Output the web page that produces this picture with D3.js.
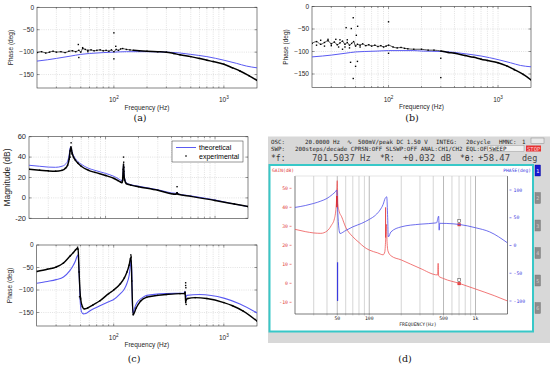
<!DOCTYPE html>
<html><head><meta charset="utf-8">
<script src="https://cdn.jsdelivr.net/npm/d3@7"></script>
<style>body{margin:0;background:#fff}svg{display:block}</style>
</head><body>
<script>
// ---------- DATA ----------
const freqDomain = [20, 2000];
const gridFreqs = [30,40,50,60,70,80,90,100,200,300,400,500,600,700,800,900,1000];
const decadeTicks = [100, 1000];
const decadeLabels = ["2", "3"];
const phaseTicks = [0, -50, -100, -150];
const phaseTickLabels = ["0", "\u221250", "\u2212100", "\u2212150"];
const magTicks = [60, 40, 20, 0, -20];
const magTickLabels = ["60", "40", "20", "0", "-20"];

// (a)
const theoF = [20,25,30,40,50,60,80,100,130,170,200,300,400,500,700,1000,1300,1600,2000];
const aTheoV = [-120,-117,-114,-109,-105,-103,-101,-100,-99,-99,-99,-100,-102,-105,-110,-118,-125,-131,-135];
const aExpF = [20,22,24,26,28,30,33,36,39,42,45,48,50,52,55,58,62,66,70,75,80,85,90,95,100,105,110,115,120,130,140,150,170,200,250,300,350,400,500,600,700,800,1000,1200,1400,1700,2000];
const aExpV = [-101,-99,-102,-100,-98,-100,-99,-101,-98,-97,-99,-96,-100,-92,-94,-96,-95,-97,-96,-95,-97,-96,-98,-95,-99,-94,-96,-93,-92,-94,-95,-96,-97,-98,-99,-100,-103,-106,-110,-114,-118,-121,-127,-135,-142,-153,-163];
const aOutF = [47.5,48,100,100,104,52,58];
const aOutV = [-83,-112,-57,-115,-87,-90,-99];

// (b)
const bTheoV = [-112,-110,-108,-104,-101,-100,-99,-98,-98,-98,-99,-100,-102,-105,-110,-118,-125,-131,-134];
const bExpF = [20,22,24,26,28,30,32,34,36,38,40,42,44,46,48,50,52,55,58,62,66,70,75,80,85,90,95,100,110,120,130,140,150,170,200,230,260,300,350,400,500,600,700,800,1000,1200,1400,1700,2000];
const bExpV = [-82,-78,-84,-80,-76,-83,-79,-85,-81,-77,-84,-80,-86,-82,-78,-88,-84,-86,-83,-87,-85,-88,-86,-89,-87,-90,-88,-86,-90,-92,-91,-93,-94,-95,-95,-97,-97,-99,-102,-104,-109,-113,-117,-120,-125,-132,-140,-151,-163];
const bOutF = [47.6,45.7,52.2,50.8,41,47.6,50,52,45,100,100,300,300,38,44,55,33,35,24,28,30,36,40,42,22,26];
const bOutV = [-25,-49,-44,-64,-47,-160,-133,-122,-124,-34,-104,-158,-115,-95,-92,-90,-73,-90,-75,-73,-87,-74,-90,-74,-86,-88];

// (c) magnitude
const cMagF = [20,25,30,35,40,43,45,46.5,47.5,48.3,49.5,51,53,56,60,70,80,100,120,130,137,141,143,145,146,147,149,155,170,200,300,440,450,460,600,1000,1500,2000];
const cMagTheo = [32,31,30.2,30,31,33,36,42,49,50,45,41.5,38.5,35.5,33,29,27,24,21,19,17.5,17,19,28,33,27,20,15,13,11.5,8,4.5,5.5,4,2,-2,-6,-8.5];
const cMagExp = [28,27.2,26.5,26.2,27,29,32,38,46,50,44,40,37,34,31,27,25,22,19,17,15.5,15,17,28,33,26,18,14,12.5,11,7.5,3.6,5,3.5,1.5,-2.5,-6,-8.5];
const cMagOutF = [48.5,47.5,49.5,146,146.5,147,450];
const cMagOutV = [54,40,43,40,35,30,11];

// (c) phase
const cPhTheoF = [20,25,30,35,40,43,45,46.5,47.5,48.5,49.5,51,53,56,62,75,90,100,115,125,132,138,142,144,146,148,150,155,162,180,200,300,435,445,450,460,600,1000,1400,2000];
const cPhTheoV = [-85,-81,-77,-71,-57,-45,-35,-25,-22,-60,-120,-148,-153,-152,-145,-135,-126,-121,-108,-98,-85,-68,-45,-33,-60,-136,-152,-140,-129,-118,-112,-108,-107,-103,-120,-112,-110,-118,-131,-151];
const cPhExpF = [20,25,30,35,40,43,45,46.5,47.5,48.5,50,52,54,58,65,75,90,100,115,125,132,138,142,144,146,150,160,175,200,250,300,400,440,445,450,455,470,550,700,1000,1200,1500,2000];
const cPhExpV = [-59,-54,-49,-40,-25,-17,-11,-8,-9,-60,-118,-137,-142,-140,-133,-124,-108,-100,-86,-73,-60,-45,-30,-28,-80,-155,-140,-125,-116,-112,-110,-108,-108,-105,-128,-122,-119,-117,-119,-128,-135,-147,-169];
const cPhOutF = [47,49,50,143,144,450,450,452,455];
const cPhOutV = [-5,-115,-120,-22,-25,-84,-90,-95,-132];

// (d) analyzer
const dGainF = [20,25,30,35,40,44,47,49,50,50.6,52,55,60,70,80,90,100,120,135,140,143,145,147,150,160,200,300,440,445,450,500,700,1000,1500,2000];
const dGainV = [28.4,27.2,26.5,26.3,27.5,30.5,34,42,54,42,38,35,29.5,24.5,21.5,19,17.5,16,15,16.5,24,31,22,17,14.5,12.3,7.9,4.4,10.5,3.8,2.5,0,-3,-6.5,-9.3];
const dPhaseF = [20,25,30,35,40,45,48,49.5,50.5,53,60,70,85,100,115,126,135,141,146,149,151,160,200,300,430,450,455,460,537,700,1000,1360,2000];
const dPhaseV = [68.6,72,75.8,80,84.8,92,96.8,100,60,21.7,27,33.6,40,47,55,63.7,74,84.8,87.7,50,15.5,24.5,33.6,38.4,40.8,52.9,27.6,40,39.7,38,32,24.5,4.7];
const dGainTicks = [50,40,30,20,10,0,-10];
const dPhaseTicks = [100,50,0,-50,-100];
const dFreqTicks = [50,100,500,1000];
const dFreqLabels = ["50","100","500","1k"];
const dGridFreqs = [30,40,50,60,70,80,90,100,200,300,400,500,600,700,800,900,1000];
const markerF = 701.5;
const markerGain = 0;
const markerPhase = 38;

// ---------- DRAW ----------
const W = 550, H = 370;
const svg = d3.select("body").append("svg").attr("width", W).attr("height", H)
  .style("font-family", "'Liberation Sans', Arial, sans-serif");
svg.append("rect").attr("width", W).attr("height", H).attr("fill", "#fff");

const BLUE = "#5a5af2";
const zip = (a, b) => a.map((v, i) => [v, b[i]]);
let clipId = 0;

function matlabAxes(o) {
  const g = svg.append("g");
  const x = d3.scaleLog().domain(freqDomain).range([o.x0, o.x1]);
  const y = d3.scaleLinear().domain(o.yDomain).range([o.y1, o.y0]);
  g.selectAll(".vg").data(gridFreqs).join("line")
    .attr("x1", d => x(d)).attr("x2", d => x(d)).attr("y1", o.y0).attr("y2", o.y1)
    .attr("stroke", "#c4c4c4").attr("stroke-width", 0.5).attr("stroke-dasharray", "1,1.2");
  g.selectAll(".hg").data(o.yTicks.filter(t => t > o.yDomain[0] && t < o.yDomain[1])).join("line")
    .attr("x1", o.x0).attr("x2", o.x1).attr("y1", d => y(d)).attr("y2", d => y(d))
    .attr("stroke", "#c4c4c4").attr("stroke-width", 0.5).attr("stroke-dasharray", "1,1.2");
  g.selectAll(".xt").data(gridFreqs).join("path")
    .attr("d", d => { const L = decadeTicks.includes(d) ? 2.5 : 1.5; return `M${x(d)},${o.y1}v${-L}M${x(d)},${o.y0}v${L}`; })
    .attr("stroke", "#333").attr("stroke-width", 0.5);
  g.selectAll(".yt").data(o.yTicks).join("path")
    .attr("d", d => `M${o.x0},${y(d)}h2.5M${o.x1},${y(d)}h-2.5`)
    .attr("stroke", "#333").attr("stroke-width", 0.5);
  g.append("rect").attr("x", o.x0).attr("y", o.y0).attr("width", o.x1 - o.x0).attr("height", o.y1 - o.y0)
    .attr("fill", "none").attr("stroke", "#333").attr("stroke-width", 0.6);
  g.selectAll(".yl").data(o.yTicks).join("text")
    .attr("x", o.x0 - 3).attr("y", d => y(d) + 2.2).attr("text-anchor", "end")
    .attr("font-size", o.tickSize || 6.5).attr("fill", "#262626").text((d, i) => o.yTickLabels[i]);
  if (o.showX) {
    decadeTicks.forEach((d, i) => {
      const t = g.append("text").attr("x", x(d)).attr("y", o.y1 + o.xLabDy).attr("text-anchor", "middle")
        .attr("font-size", 6.5).attr("fill", "#262626");
      t.append("tspan").text("10");
      t.append("tspan").attr("dy", -2.8).attr("font-size", 4.6).text(decadeLabels[i]);
    });
    g.append("text").attr("x", (o.x0 + o.x1) / 2).attr("y", o.y1 + o.xTitleDy).attr("text-anchor", "middle")
      .attr("font-size", 6.5).attr("fill", "#262626").text("Frequency (Hz)");
  }
  g.append("text").attr("transform", `translate(${o.ylabX},${(o.y0 + o.y1) / 2}) rotate(-90)`)
    .attr("text-anchor", "middle").attr("font-size", o.ylabSize || 6.5).attr("fill", "#262626").text(o.ylabel);
  const id = "clip" + (clipId++);
  svg.append("clipPath").attr("id", id).append("rect")
    .attr("x", o.x0).attr("y", o.y0).attr("width", o.x1 - o.x0).attr("height", o.y1 - o.y0);
  const plot = svg.append("g").attr("clip-path", `url(#${id})`);
  return { x, y, plot };
}

function drawTheo(ax, F, V, color, w) {
  ax.plot.append("path").datum(zip(F, V))
    .attr("d", d3.line().x(d => ax.x(d[0])).y(d => ax.y(d[1])).curve(d3.curveMonotoneX))
    .attr("fill", "none").attr("stroke", color).attr("stroke-width", w || 1);
}
function drawExp(ax, F, V, outF, outV, lw, thickFrom) {
  const pts = zip(F, V);
  const line = d3.line().x(d => ax.x(d[0])).y(d => ax.y(d[1])).curve(d3.curveMonotoneX);
  if (thickFrom) {
    ax.plot.append("path").datum(pts.filter(d => d[0] <= thickFrom))
      .attr("d", line).attr("fill", "none").attr("stroke", "#000").attr("stroke-width", 0.7);
    ax.plot.append("path").datum(pts.filter(d => d[0] >= thickFrom))
      .attr("d", line).attr("fill", "none").attr("stroke", "#000").attr("stroke-width", lw);
  } else {
    ax.plot.append("path").datum(pts).attr("d", line)
      .attr("fill", "none").attr("stroke", "#000").attr("stroke-width", lw || 1.4);
  }
  const all = pts.concat(zip(outF, outV));
  ax.plot.selectAll(null).data(all).join("rect")
    .attr("x", d => ax.x(d[0]) - 0.7).attr("y", d => ax.y(d[1]) - 0.7)
    .attr("width", 1.4).attr("height", 1.4).attr("fill", "#000");
}

// (a)
const axA = matlabAxes({ x0: 37, x1: 257, y0: 7.3, y1: 88, yDomain: [-180, 0], yTicks: phaseTicks,
  yTickLabels: phaseTickLabels, showX: true, xLabDy: 14, xTitleDy: 21.5, ylabel: "Phase (deg)", ylabX: 13 });
drawTheo(axA, theoF, aTheoV, BLUE, 1);
drawExp(axA, aExpF, aExpV, aOutF, aOutV, 1.5, 150);

// (b)
const axB = matlabAxes({ x0: 312, x1: 531, y0: 6.5, y1: 87.5, yDomain: [-180, 0], yTicks: phaseTicks,
  yTickLabels: phaseTickLabels, showX: true, xLabDy: 14, xTitleDy: 21.5, ylabel: "Phase (deg)", ylabX: 288 });
drawTheo(axB, theoF, bTheoV, BLUE, 1);
drawExp(axB, bExpF, bExpV, bOutF, bOutV, 1.5, 300);

// (c) magnitude
const axCM = matlabAxes({ x0: 29, x1: 248, y0: 136.7, y1: 218.3, yDomain: [-20, 60], yTicks: magTicks,
  yTickLabels: magTickLabels, showX: false, ylabel: "Magnitude (dB)", ylabX: 10, ylabSize: 8.5, tickSize: 7.5 });
drawTheo(axCM, cMagF, cMagTheo, BLUE, 1);
drawExp(axCM, cMagF, cMagExp, cMagOutF, cMagOutV, 1.5);
const lg = svg.append("g");
lg.append("rect").attr("x", 172).attr("y", 141).attr("width", 71).attr("height", 21)
  .attr("fill", "#fff").attr("stroke", "#333").attr("stroke-width", 0.5);
lg.append("line").attr("x1", 176).attr("x2", 196).attr("y1", 147.5).attr("y2", 147.5).attr("stroke", BLUE).attr("stroke-width", 1);
lg.append("rect").attr("x", 185.3).attr("y", 155.3).attr("width", 1.4).attr("height", 1.4).attr("fill", "#000");
lg.append("text").attr("x", 199).attr("y", 150).attr("font-size", 7).attr("fill", "#000").text("theoretical");
lg.append("text").attr("x", 199).attr("y", 158.5).attr("font-size", 7).attr("fill", "#000").text("experimental");

// (c) phase
const axCP = matlabAxes({ x0: 36.7, x1: 257, y0: 245, y1: 326, yDomain: [-180, 0], yTicks: phaseTicks,
  yTickLabels: phaseTickLabels, showX: true, xLabDy: 14, xTitleDy: 20.5, ylabel: "Phase (deg)", ylabX: 12 });
drawTheo(axCP, cPhTheoF, cPhTheoV, BLUE, 1.1);
drawExp(axCP, cPhExpF, cPhExpV, cPhOutF, cPhOutV, 1.4);

const subLab = [["(a)", 140, 121], ["(b)", 412, 121], ["(c)", 134, 362], ["(d)", 405, 362]];
svg.selectAll(".sl").data(subLab).join("text")
  .attr("x", d => d[1]).attr("y", d => d[2]).attr("text-anchor", "middle")
  .attr("font-family", "'DejaVu Serif', 'Liberation Serif', serif").attr("font-size", 9.5).attr("fill", "#111")
  .text(d => d[0]);

// ---------- (d) analyzer screenshot ----------
const dg = svg.append("g").attr("font-family", "'DejaVu Sans Mono', 'Liberation Mono', monospace");
dg.append("rect").attr("x", 268).attr("y", 136.5).attr("width", 282).attr("height", 206.5).attr("fill", "#d8d8d8");
const row = (txt, x, y, size, fill, anchor) => dg.append("text").attr("x", x).attr("y", y)
  .attr("font-size", size).attr("fill", fill || "#222").attr("text-anchor", anchor || "start").text(txt);
row("OSC:", 271, 143.5, 5.8);
row("20.0000 Hz", 305, 143.5, 5.8);
row("\u223F", 347, 143.5, 6);
row("500mV/peak DC  1.50 V", 358, 143.5, 5.8);
row("INTEG:", 436, 143.5, 5.8);
row("20cycle", 466, 143.5, 5.8);
row("HMNC:", 499, 143.5, 5.8);
row("1", 522, 143.5, 5.8);
dg.append("rect").attr("x", 531).attr("y", 138).attr("width", 13).attr("height", 5.5).attr("fill", "#e8e8e8").attr("stroke", "#888").attr("stroke-width", 0.5);
row("SWP:", 271, 150.5, 5.8);
row("200steps/decade CPRSN:OFF SLSWP:OFF ANAL:CH1/CH2 EQL:OFF", 295, 150.5, 5.8);
dg.append("rect").attr("x", 488).attr("y", 145.5).attr("width", 36).attr("height", 6).attr("fill", "#efefef").attr("stroke", "#888").attr("stroke-width", 0.4);
row("SWEEP", 489, 150.5, 5.8);
dg.append("rect").attr("x", 526).attr("y", 145.5).attr("width", 15).attr("height", 6).attr("fill", "#e53030");
row("STOP", 527, 150.5, 5.6, "#ffd0d0");
row("*f:", 271, 161, 8, "#333");
row("701.5037 Hz", 312, 161, 8.9, "#444");
row("*R:", 380, 161, 8, "#333");
row("+0.032 dB", 403, 161, 8.9, "#444");
row("*\u03B8:", 460, 161, 8, "#333");
row("+58.47", 478, 161, 8.9, "#444");
row("deg", 522, 161, 8.5, "#444");

dg.append("rect").attr("x", 269.5).attr("y", 165).attr("width", 263.5).attr("height", 166.5)
  .attr("fill", "#fff").attr("stroke", "#38c8c8").attr("stroke-width", 2);
const btnY = [165, 192.5, 220, 247.5, 275, 302.5];
btnY.forEach((by, i) => {
  dg.append("rect").attr("x", 535).attr("y", by).attr("width", 5.5).attr("height", 11)
    .attr("fill", i === 0 ? "#1818d0" : "#8c8c8c").attr("stroke", i === 0 ? "#0808a0" : "#707070").attr("stroke-width", 0.4);
  row(String(i + 1), 537.7, by + 7.5, 5, i === 0 ? "#fff" : "#cfcfcf", "middle");
});

const dx = d3.scaleLog().domain(freqDomain).range([295, 507.5]);
const gy = d3.scaleLinear().domain([-10, 50]).range([302.3, 188.3]);
const py = d3.scaleLinear().domain([-100, 100]).range([301, 190]);
const dTop = 176, dBot = 314;
dg.selectAll(".dgl").data(dGridFreqs).join("line")
  .attr("x1", d => dx(d)).attr("x2", d => dx(d)).attr("y1", dTop).attr("y2", dBot + 1.5)
  .attr("stroke", d => dFreqTicks.includes(d) ? "#8a8a8a" : "#b8b8b8").attr("stroke-width", 0.6);
dg.append("path").attr("d", `M295,${dTop}V${dBot}H507.5V${dTop}`).attr("fill", "none").attr("stroke", "#444").attr("stroke-width", 0.7);
dg.append("line").attr("x1", 295).attr("x2", 507.5).attr("y1", dTop).attr("y2", dTop).attr("stroke", "#c8c8c8").attr("stroke-width", 0.5);
dg.selectAll(".gt").data(dGainTicks).join("text")
  .attr("x", 288).attr("y", d => gy(d) + 1.6).attr("text-anchor", "end").attr("font-size", 4.8).attr("fill", "#e03a3a").text(d => d);
dg.selectAll(".gtm").data(dGainTicks).join("line")
  .attr("x1", 289.5).attr("x2", 291.5).attr("y1", d => gy(d)).attr("y2", d => gy(d)).attr("stroke", "#e03a3a").attr("stroke-width", 0.6);
dg.selectAll(".pt").data(dPhaseTicks).join("text")
  .attr("x", 513.5).attr("y", d => py(d) + 1.6).attr("font-size", 4.8).attr("fill", "#3a3ae0").text(d => d);
dg.selectAll(".ptm").data(dPhaseTicks).join("line")
  .attr("x1", 509.5).attr("x2", 511.5).attr("y1", d => py(d)).attr("y2", d => py(d)).attr("stroke", "#3a3ae0").attr("stroke-width", 0.6);
dg.selectAll(".ft").data(dFreqTicks).join("text")
  .attr("x", d => dx(d)).attr("y", 320).attr("text-anchor", "middle").attr("font-size", 4.8).attr("fill", "#222")
  .text((d, i) => dFreqLabels[i]);
row("FREQUENCY(Hz)", 418, 326, 4.8, "#222", "middle");
row("GAIN(dB)", 272, 171.5, 4.6, "#e03a3a");
row("PHASE(deg)", 531, 171.5, 4.6, "#3a3ae0", "end");

svg.append("clipPath").attr("id", "dclip").append("rect").attr("x", 295).attr("y", dTop - 2).attr("width", 212.5).attr("height", dBot - dTop + 2);
const dp = svg.append("g").attr("clip-path", "url(#dclip)");
dp.append("path").datum(zip(dGainF, dGainV))
  .attr("d", d3.line().x(d => dx(d[0])).y(d => gy(d[1])).curve(d3.curveMonotoneX))
  .attr("fill", "none").attr("stroke", "#ee5555").attr("stroke-width", 0.8);
dp.append("path").datum(zip(dPhaseF, dPhaseV))
  .attr("d", d3.line().x(d => dx(d[0])).y(d => py(d[1])).curve(d3.curveMonotoneX))
  .attr("fill", "none").attr("stroke", "#4a4ae8").attr("stroke-width", 0.8);
dp.append("line").attr("x1", dx(50.3)).attr("x2", dx(50.3)).attr("y1", py(-30)).attr("y2", py(-100))
  .attr("stroke", "#3a3ae0").attr("stroke-width", 1.2);
dp.append("line").attr("x1", dx(49.6)).attr("x2", dx(49.6)).attr("y1", gy(40)).attr("y2", gy(46))
  .attr("stroke", "#e02a2a").attr("stroke-width", 1.6);
dp.append("line").attr("x1", dx(142.5)).attr("x2", dx(142.5)).attr("y1", gy(24)).attr("y2", gy(40))
  .attr("stroke", "#e02a2a").attr("stroke-width", 0.9);
[[markerGain, gy], [markerPhase, py]].forEach(([v, s]) => {
  const mx = dx(markerF), my = s(v);
  dg.append("rect").attr("x", mx - 1.7).attr("y", my - 1.2).attr("width", 3.4).attr("height", 3).attr("fill", "#e04040");
  dg.append("rect").attr("x", mx - 1.3).attr("y", my - 5).attr("width", 2.6).attr("height", 3.2)
    .attr("fill", "#fff").attr("stroke", "#333").attr("stroke-width", 0.5);
});
</script>
</body></html>
